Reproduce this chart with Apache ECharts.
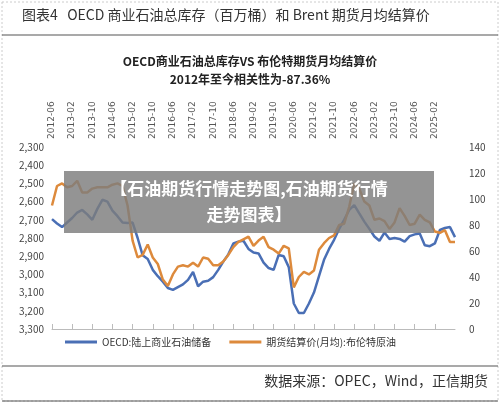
<!DOCTYPE html>
<html><head><meta charset="utf-8">
<script src="https://cdn.jsdelivr.net/npm/echarts@6/dist/echarts.min.js"></script>
<style>html,body{margin:0;padding:0;background:#fff}#c{width:500px;height:405px}</style>
</head><body><div id="c"></div>
<script>
// bimonthly from 2012-06
const startYear = 2012, startMonth = 6;
const inventory = [2696,2720,2740,2715,2690,2660,2646,2670,2700,2640,2590,2600,2650,2680,2715,2718,2715,2800,2895,2915,
2975,3010,3040,3075,3085,3070,3055,3030,2987,3065,3040,3035,3015,2975,2930,2890,2830,2820,2815,2860,
2880,2885,2935,2965,2975,2893,2900,2960,3160,3212,3212,3160,3100,3010,2920,2860,2810,2750,2700,2646,
2619,2665,2710,2750,2792,2815,2770,2805,2800,2805,2820,2790,2780,2775,2840,2845,2830,2756,2745,2740,2795];
const brent = [95,110,112,109,110,114,105,105,108,109,109,109,111,112,110,95,68,55,57,65,
55,50,38,33,42,48,49,48,51,48,55,54,49,49,52,57,63,67,69,71,
64,68,71,63,61,58,64,62,32,40,44,42,45,61,66,70,72,80,81,94,
112,108,98,95,84,85,83,77,82,93,87,80,81,88,84,82,75,74,76,67,67];
const leftTicks = [2300,3300,100];
const rightTicks = [0,140,20];
const lastLabel = '2025-02';
const categories = inventory.map((_, i) => {
  const m = startMonth - 1 + 2 * i;
  const y = startYear + Math.floor(m / 12);
  const mm = (m % 12) + 1;
  return y + '-' + (mm < 10 ? '0' + mm : mm);
});
const lastIdx = categories.indexOf(lastLabel);
const showIdx = (i) => i % 4 === 0 && i <= lastIdx;
const F = '"Noto Sans CJK SC","Noto Sans",sans-serif';
const chart = echarts.init(document.getElementById('c'));
chart.setOption({
  animation: false,
  backgroundColor: '#fff',
  title: {
    text: 'OECD商业石油总库存VS 布伦特期货月均结算价\n2012年至今相关性为-87.36%',
    left: 'center', top: 47,
    textStyle: {fontFamily: F, fontSize: 12, fontWeight: 'bold', color: '#222', lineHeight: 18}
  },
  legend: {
    bottom: 53, left: 60, itemWidth: 32, itemHeight: 3, itemGap: 18,
    icon: 'rect',
    textStyle: {fontFamily: F, fontSize: 10, color: '#333'},
    data: ['OECD:陆上商业石油储备', '期货结算价(月均):布伦特原油']
  },
  grid: {left: 52, right: 45, top: 147, bottom: 76},
  xAxis: {
    type: 'category', position: 'top', data: categories, boundaryGap: false,
    axisLine: {lineStyle: {color: '#bbb'}},
    axisTick: {alignWithLabel: true, interval: showIdx, lineStyle: {color: '#bbb'}},
    axisLabel: {interval: showIdx, rotate: 90, fontSize: 9, color: '#555', fontFamily: 'DejaVu Sans'}
  },
  yAxis: [{
    type: 'value', inverse: true, min: leftTicks[0], max: leftTicks[1], interval: leftTicks[2],
    splitLine: {show: false}, axisLine: {show: false}, axisTick: {show: false},
    axisLabel: {fontSize: 10, color: '#444', fontFamily: F,
      formatter: v => v.toLocaleString('en-US')}
  }, {
    type: 'value', min: rightTicks[0], max: rightTicks[1], interval: rightTicks[2],
    splitLine: {show: false}, axisLine: {show: false}, axisTick: {show: false},
    axisLabel: {fontSize: 10, color: '#444', fontFamily: F, margin: 14}
  }],
  series: [{
    name: 'OECD:陆上商业石油储备', type: 'line', yAxisIndex: 0, data: inventory,
    symbol: 'none', lineStyle: {width: 2.5, color: '#4a6fb5'}, itemStyle: {color: '#4a6fb5'}
  }, {
    name: '期货结算价(月均):布伦特原油', type: 'line', yAxisIndex: 1, data: brent,
    symbol: 'none', lineStyle: {width: 2.5, color: '#dd8a3c'}, itemStyle: {color: '#dd8a3c'}
  }],
  graphic: [
    {type: 'rect', shape: {x: 2, y: 2, width: 496, height: 399}, style: {fill: 'none', stroke: '#ccc', lineWidth: 1, lineDash: [2, 2]}, z: 0},
    {type: 'text', left: 22, top: 8, style: {text: '图表4   OECD 商业石油总库存（百万桶）和 Brent 期货月均结算价', fontFamily: F, fontSize: 14, fill: '#333'}},
    {type: 'line', shape: {x1: 2, y1: 35, x2: 498, y2: 35}, style: {stroke: '#555', lineWidth: 1.2}},
    {type: 'line', shape: {x1: 2, y1: 366, x2: 498, y2: 366}, style: {stroke: '#555', lineWidth: 1.2}},
    {type: 'line', shape: {x1: 2, y1: 401, x2: 498, y2: 401}, style: {stroke: '#555', lineWidth: 1.2}},
    {type: 'text', right: 12, top: 374, style: {text: '数据来源：OPEC，Wind，正信期货', fontFamily: F, fontSize: 14, fill: '#333'}},
    {type: 'rect', shape: {x: 64, y: 171, width: 370, height: 62}, style: {fill: 'rgba(125,125,125,0.82)'}, z: 100},
    {type: 'text', x: 249, y: 202, z: 101, style: {text: '【石油期货行情走势图,石油期货行情\n走势图表】', fontFamily: F, fontSize: 17, fontWeight: 'bold', fill: '#fff', align: 'center', verticalAlign: 'middle', lineHeight: 26}}
  ]
});
</script></body></html>
